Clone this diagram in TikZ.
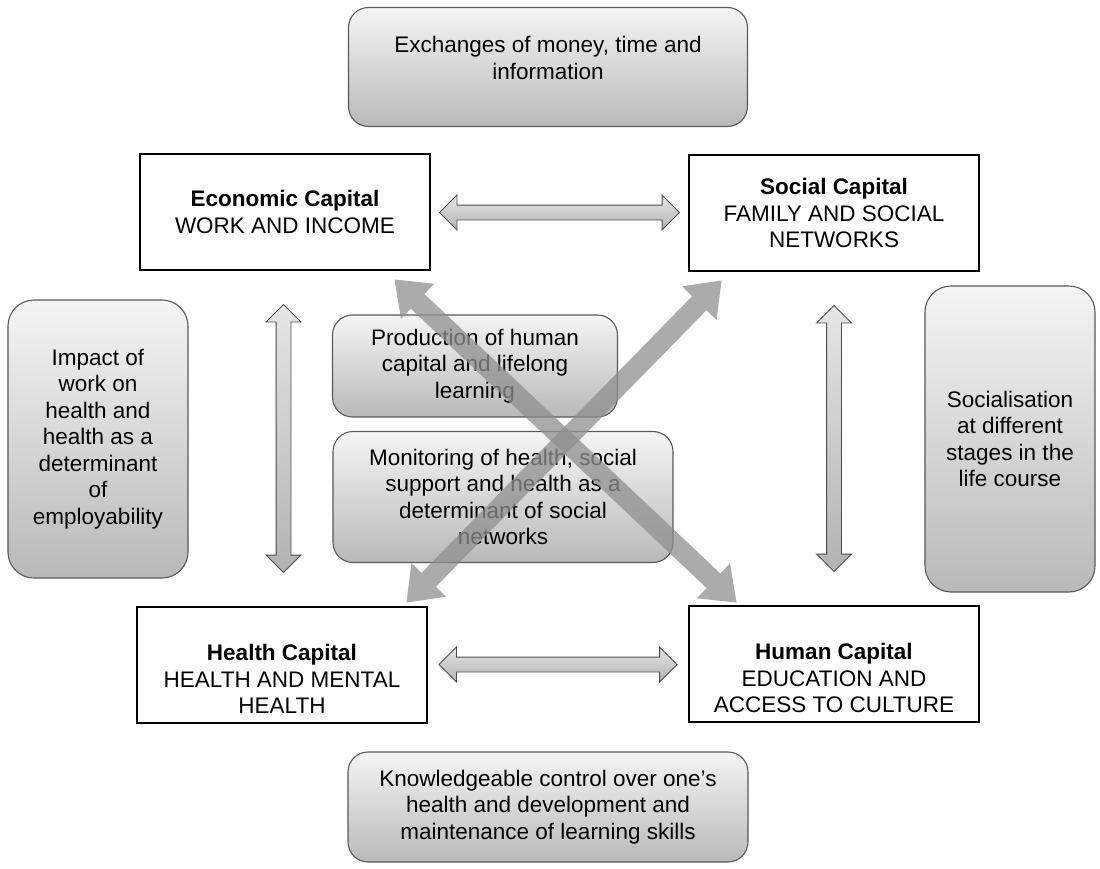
\documentclass[tikz,border=0pt]{standalone}
\usepackage{fontspec}
\setmainfont{Liberation Sans}
\usetikzlibrary{shapes.arrows,arrows.meta,calc}

\begin{document}
\begin{tikzpicture}[x=1pt,y=-1pt,font=\fontsize{22.5}{26.5}\selectfont,
    capbox/.style={draw=black,line width=2.6pt,fill=white,minimum width=290pt,minimum height=116pt,inner sep=0pt,align=center},
    notebox/.style={draw=black!65,line width=1.1pt,rounded corners=20pt,top color=gray!8,bottom color=gray!55,inner sep=0pt,align=center},
    linkarrow/.style={double arrow,draw=black!70,line width=0.9pt,top color=gray!20,bottom color=gray!60,inner xsep=0pt,inner ysep=7pt,double arrow head extend=10pt,double arrow tip angle=90},
    xarrow/.style={line width=20pt,draw=black!44,{Triangle[width=46pt,length=32pt]}-{Triangle[width=46pt,length=32pt]}}]
    \fill[white] (0,0) rectangle (1100,868);
    \useasboundingbox (0,0) rectangle (1100,868);
    \node[notebox,minimum width=399pt,minimum height=119pt] (exch) at (548,67) {};
    \node[align=center] (exchtxt) at ([yshift=9pt]exch.center) {Exchanges of money, time and\\information};
    \node[capbox] (econ) at (285,212) {\textbf{Economic Capital}\\WORK AND INCOME};
    \node[capbox] (social) at (834,213) {\textbf{Social Capital}\\FAMILY AND SOCIAL\\NETWORKS};
    \node[capbox] (health) at (282,665) {};
    \node[align=center] (healthtxt) at ([yshift=-14pt]health.center) {\textbf{Health Capital}\\HEALTH AND MENTAL\\HEALTH};
    \node[capbox] (human) at (834,664) {};
    \node[align=center] (humantxt) at ([yshift=-14pt]human.center) {\textbf{Human Capital}\\EDUCATION AND\\ACCESS TO CULTURE};
    \node[notebox,minimum width=180pt,minimum height=278pt,rounded corners=26pt] (impact) at (98,439) {Impact of\\work on\\health and\\health as a\\determinant\\of\\employability};
    \node[notebox,minimum width=170pt,minimum height=306pt,rounded corners=26pt] (socialis) at (1010,439) {Socialisation\\at different\\stages in the\\life course};
    \node[notebox,minimum width=285pt,minimum height=102pt] (prod) at (475,366) {Production of human\\capital and lifelong\\learning};
    \node[notebox,minimum width=340pt,minimum height=131pt] (monit) at (503,497) {Monitoring of health, social\\support and health as a\\determinant of social\\networks};
    \node[notebox,minimum width=400pt,minimum height=110pt] (know) at (548,807) {Knowledgeable control over one's\\health and development and\\maintenance of learning skills};
    \node[linkarrow,minimum height=240pt] (esarrow) at ($(econ.east)!.5!(social.west)$) {};
    \node[linkarrow,minimum height=238pt] (hharrow) at ($(health.east)!.5!(human.west)$) {};
    \node[linkarrow,rotate=90,minimum height=268pt] (eharrow) at ($(econ.south)!.5!(health.north)$) {};
    \node[linkarrow,rotate=90,minimum height=266pt] (sharrow) at ($(social.south)!.5!(human.north)$) {};
    \begin{scope}[transparency group,opacity=.75]
        \draw[xarrow] ([shift={(-37,8)}]econ.south east) -- ([shift={(49,-2)}]human.north west);
    \end{scope}
    \begin{scope}[transparency group,opacity=.75]
        \draw[xarrow] ([shift={(34,8)}]social.south west) -- ([shift={(-22,-3)}]health.north east);
    \end{scope}
\end{tikzpicture}
\end{document}
